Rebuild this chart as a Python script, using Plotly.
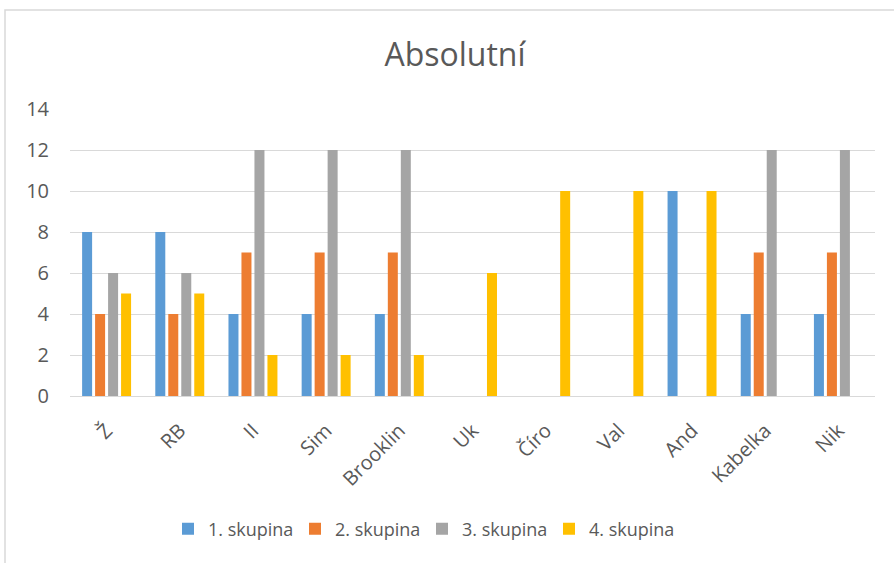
import plotly.graph_objects as go

categories = ["Ž", "RB", "II", "Sim", "Brooklin", "Uk", "Číro", "Val", "And", "Kabelka", "Nik"]
skupina1 = [8, 8, 4, 4, 4, 0, 0, 0, 10, 4, 4]
skupina2 = [4, 4, 7, 7, 7, 0, 0, 0, 0, 7, 7]
skupina3 = [6, 6, 12, 12, 12, 0, 0, 0, 0, 12, 12]
skupina4 = [5, 5, 2, 2, 2, 6, 10, 10, 10, 0, 0]
series_names = ["1. skupina", "2. skupina", "3. skupina", "4. skupina"]
colors = ["#5b9bd5", "#ed7d31", "#a5a5a5", "#ffc000"]

W, H = 894, 563
L, R, T, B = 70, 19, 109, 167

fig = go.Figure()
for name, vals, c in zip(series_names, [skupina1, skupina2, skupina3, skupina4], colors):
    fig.add_trace(go.Bar(x=categories, y=vals, name=name, marker=dict(color=c, line=dict(width=0))))

pw = W - L - R
ph = H - T - B
def px2paper_x(px):
    return (px - L) / pw
def py2paper_y(py):
    return (H - B - py) / ph

fig.update_layout(
    width=W, height=H,
    margin=dict(l=L, r=R, t=T, b=B),
    paper_bgcolor="white", plot_bgcolor="white",
    barmode="group", bargap=0.29, bargroupgap=0.23,
    font=dict(family="Open Sans, sans-serif", color="#595959", size=18),
    title=dict(text="Absolutní", x=px2paper_x(455), xref="paper", xanchor="center",
               y=1 - 55 / H, yanchor="middle",
               font=dict(size=32, color="#595959")),
    xaxis=dict(tickangle=-45, showgrid=False, showline=True, linecolor="#d9d9d9", linewidth=1,
               ticks="", tickfont=dict(size=20, color="#595959"), ticklabelstandoff=14),
    yaxis=dict(range=[0, 14], dtick=2, showgrid=True, gridcolor="#d9d9d9", gridwidth=1,
               zeroline=False, ticks="", tickfont=dict(size=20, color="#595959"), ticklabelstandoff=20),
    legend=dict(orientation="h", x=px2paper_x(168), xanchor="left", y=py2paper_y(529), yanchor="middle",
                font=dict(size=18, color="#595959"), itemwidth=30, traceorder="normal",
                entrywidth=82, entrywidthmode="pixels"),
    shapes=[dict(type="rect", xref="paper", yref="paper",
                 x0=px2paper_x(5), x1=px2paper_x(905), y0=py2paper_y(575), y1=py2paper_y(10),
                 line=dict(color="#d9d9d9", width=1.5), fillcolor="rgba(0,0,0,0)", layer="below")],
)

fig.write_html("out.html", post_script="document.body.style.margin='0';",
               config={"displayModeBar": False})
